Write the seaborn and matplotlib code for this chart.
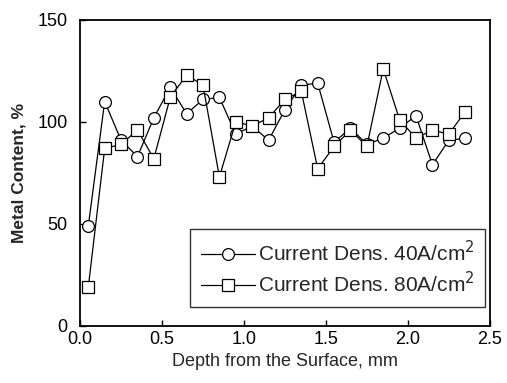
import numpy as np
import pandas as pd
import seaborn as sns
import matplotlib.pyplot as plt

# profundidade (mm) e teor de metal (%)
depth = [0.05, 0.15, 0.25, 0.35, 0.45, 0.55, 0.65, 0.75, 0.85, 0.95, 1.05, 1.15,
         1.25, 1.35, 1.45, 1.55, 1.65, 1.75, 1.85, 1.95, 2.05, 2.15, 2.25, 2.35]
metal_40 = [49, 110, 91, 83, 102, 117, 104, 111, 112, 94, 98, 91,
            106, 118, 119, 90, 97, 89, 92, 97, 103, 79, 91, 92]
metal_80 = [19, 87, 89, 96, 82, 112, 123, 118, 73, 100, 98, 102,
            111, 115, 77, 88, 96, 88, 126, 101, 92, 96, 94, 105]

df = pd.DataFrame({'depth': depth * 2,
                   'metal': metal_40 + metal_80,
                   'serie': ['Current Dens. 40A/cm$^2$'] * len(depth) + ['Current Dens. 80A/cm$^2$'] * len(depth)})

sns.set_style('ticks')
plt.rcParams['font.family'] = ['Liberation Sans', 'DejaVu Sans']

fig, ax = plt.subplots(figsize=(5.07, 3.83), dpi=100)
fig.subplots_adjust(left=0.158, right=0.966, top=0.948, bottom=0.149)

sns.lineplot(data=df, x='depth', y='metal', hue='serie', style='serie',
             markers=['o', 's'], dashes=False, palette=['black', 'black'],
             markersize=8.5, markerfacecolor='white', markeredgecolor='black',
             markeredgewidth=0.9, linewidth=0.9, ax=ax)

ax.set_xlim(0, 2.5)
ax.set_ylim(0, 150)
ax.set_xticks([0.0, 0.5, 1.0, 1.5, 2.0, 2.5])
ax.set_xticklabels(['0.0', '0.5', '1.0', '1.5', '2.0', '2.5'])
ax.set_yticks([0, 50, 100, 150])
ax.tick_params(direction='in', length=4, width=1, labelsize=13, colors='black')
ax.tick_params(axis='y', pad=9)
ax.tick_params(axis='x', pad=4)
for s in ax.spines.values():
    s.set_linewidth(1.3)
    s.set_color('black')

ax.set_xlabel('Depth from the Surface, mm', fontsize=13, labelpad=3)
ax.set_ylabel('Metal Content, %', fontsize=12.5, fontweight='bold', labelpad=8)

leg = ax.legend(loc='lower right', bbox_to_anchor=(0.988, 0.062), fontsize=15,
                frameon=True, fancybox=False, edgecolor='black',
                handlelength=2.6, handletextpad=0.15, borderaxespad=0,
                labelspacing=0.3, borderpad=0.5)
leg.get_frame().set_linewidth(1.0)

plt.savefig('out.png', dpi=100)
